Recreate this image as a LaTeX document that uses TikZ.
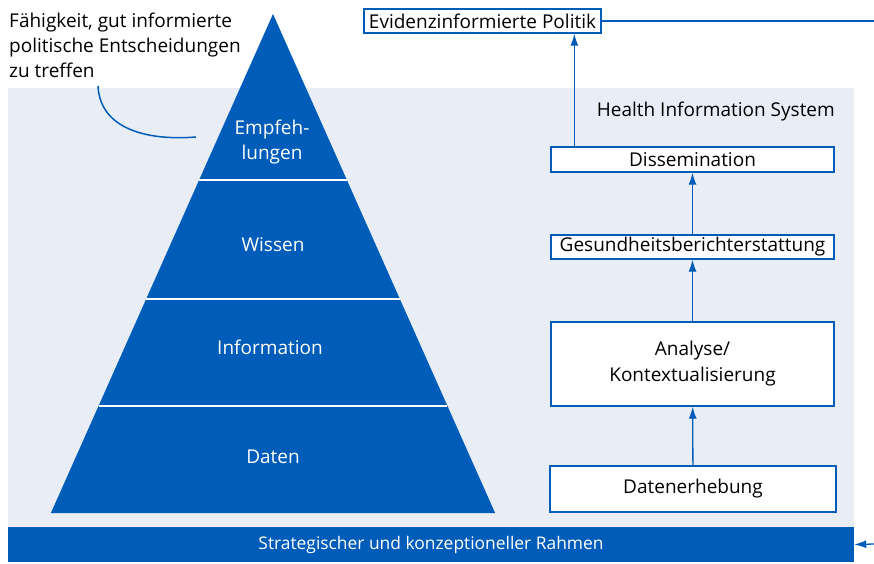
\documentclass[tikz,border=0pt]{standalone}
\usepackage{fontspec}
\setmainfont{Open Sans}
\usetikzlibrary{arrows.meta}
\definecolor{hisblue}{HTML}{005CB9}
\definecolor{hisbg}{HTML}{E9EEF6}
\tikzset{
  hisbox/.style={draw=hisblue, line width=1.3pt, fill=white, inner sep=0pt,
    minimum width=283pt, align=center, font=\fontsize{19}{26}\selectfont},
  flow/.style={draw=hisblue, line width=1.3pt, -{Latex[length=12pt,width=8pt]}},
  layer/.style={text=white, align=center, font=\fontsize{19}{25}\selectfont},
}
\begin{document}
\begin{tikzpicture}[x=1pt,y=-1pt]
  \useasboundingbox (0,0) rectangle (874,563);
  % light frame of the information system
  \fill[hisbg] (8,88) rectangle (854,527);
  % pyramid
  \fill[hisblue] (273,14) -- (495.1,513) -- (50.9,513) -- cycle;
  \draw[white, line width=2pt] (199.1,180) -- (346.9,180);
  \draw[white, line width=2pt] (146.2,299) -- (399.8,299);
  \draw[white, line width=2pt] (98.6,406) -- (447.4,406);
  \node[layer] (empf) at (272,142) {Empfeh-\\lungen};
  \node[layer] (wissen) at (273,245) {Wissen};
  \node[layer] (info) at (270,347) {Information};
  \node[layer] (daten) at (273,457) {Daten};
  % annotation
  \node[anchor=base west, align=left, inner sep=0pt,
    font=\fontsize{19}{25}\selectfont] (faehig) at (9,77)
    {Fähigkeit, gut informierte\\politische Entscheidungen\\zu treffen};
  \draw[hisblue, line width=1.5pt] (98,86) .. controls (100,128) and (145,141) .. (196,137);
  % process boxes
  \node[hisbox, minimum width=237pt, minimum height=24pt] (evid) at (482.5,21) {Evidenzinformierte Politik};
  \node[hisbox, minimum height=25pt] (dissem) at (692.5,159.5) {Dissemination};
  \node[hisbox, minimum height=24pt] (gber) at (692.5,247) {Gesundheitsberichterstattung};
  \node[hisbox, minimum height=84pt] (analyse) at (692.5,364) {Analyse/\\Kontextualisierung};
  \node[hisbox, minimum width=286pt, minimum height=46pt] (erheb) at (693,489) {Datenerhebung};
  \node[anchor=east, inner sep=0pt, font=\fontsize{19}{22}\selectfont] (his) at (835,112) {Health Information System};
  % frame bar
  \node[fill=hisblue, text=white, minimum width=846pt, minimum height=35pt, inner sep=0pt,
    font=\fontsize{17.4}{20}\selectfont] (rahmen) at (431,544.5) {Strategischer und konzeptioneller Rahmen};
  % connectors
  \draw[flow] (erheb) -- (analyse);
  \draw[flow] (analyse) -- (gber);
  \draw[flow] (gber) -- (dissem);
  \draw[flow] ([xshift=24pt]dissem.north west) -- ([xshift=24pt]dissem.north west |- evid.south);
  \coordinate (aus) at (874,21);
  \draw[hisblue, line width=1.3pt] (evid.east) -- (aus);
  \coordinate (ein) at (874,544);
  \draw[flow] (ein) -- (rahmen.east);
\end{tikzpicture}
\end{document}
